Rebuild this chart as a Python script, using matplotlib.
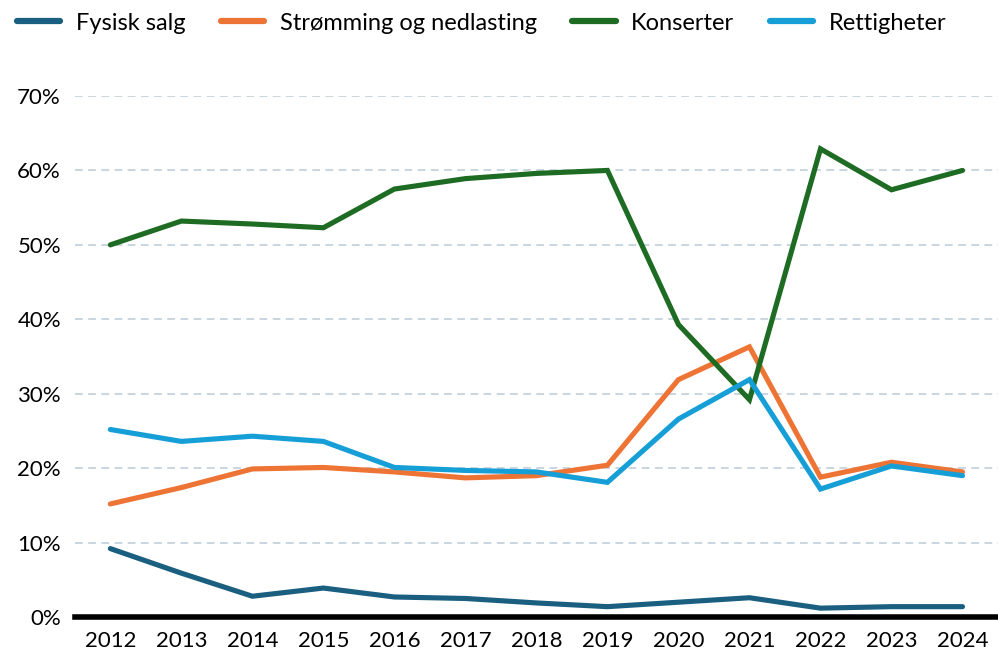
import matplotlib
matplotlib.use("Agg")
import matplotlib.pyplot as plt
from matplotlib.ticker import FuncFormatter

years = list(range(2012, 2025))
fysisk = [9.2, 5.9, 2.8, 3.9, 2.7, 2.5, 1.9, 1.4, 2.0, 2.6, 1.2, 1.4, 1.4]
stromming = [15.2, 17.4, 19.9, 20.1, 19.5, 18.7, 19.0, 20.4, 31.9, 36.3, 18.8, 20.8, 19.5]
konserter = [50.0, 53.2, 52.8, 52.3, 57.5, 58.9, 59.6, 60.0, 39.3, 29.2, 62.9, 57.4, 60.0]
rettigheter = [25.2, 23.6, 24.3, 23.6, 20.1, 19.7, 19.5, 18.1, 26.6, 31.9, 17.2, 20.3, 19.0]
labels = ["Fysisk salg", "Strømming og nedlasting", "Konserter", "Rettigheter"]
colors = ["#1a5e80", "#ed7435", "#1e6b23", "#169fd6"]

plt.rcParams['font.family'] = ['Lato', 'DejaVu Sans']

fig = plt.figure(figsize=(9.98, 6.53), dpi=100)
ax = fig.add_axes([0.075, 0.055, 0.925, 0.798])

for s, lab, c in zip([fysisk, stromming, konserter, rettigheter], labels, colors):
    ax.plot(years, s, color=c, lw=3.7, label=lab, solid_capstyle='round',
            solid_joinstyle='miter', clip_on=False)

ax.set_xlim(2011.5, 2024.5)
ax.set_ylim(0, 70)
ax.set_yticks(range(0, 71, 10))
ax.yaxis.set_major_formatter(FuncFormatter(lambda v, p: f"{int(v)}%"))
ax.set_xticks(years)
ax.grid(axis='y', color='#c5d3de', linestyle=(0, (4.3, 3.0)), lw=1.3)
ax.set_axisbelow(True)
for sp in ['top', 'right', 'left']:
    ax.spines[sp].set_visible(False)
ax.spines['bottom'].set_linewidth(4)
ax.spines['bottom'].set_color('black')
ax.tick_params(axis='both', length=0, labelsize=16, colors='black')
ax.tick_params(axis='x', pad=10)
ax.tick_params(axis='y', pad=10)

leg = fig.legend(loc='upper left', bbox_to_anchor=(0.0, 1.006), ncol=4, frameon=False,
                 fontsize=17, handlelength=1.85, columnspacing=1.5, handletextpad=0.65,
                 borderaxespad=0.3)
for h in leg.get_lines():
    h.set_linewidth(4.5)

fig.savefig("out.png", dpi=100)
